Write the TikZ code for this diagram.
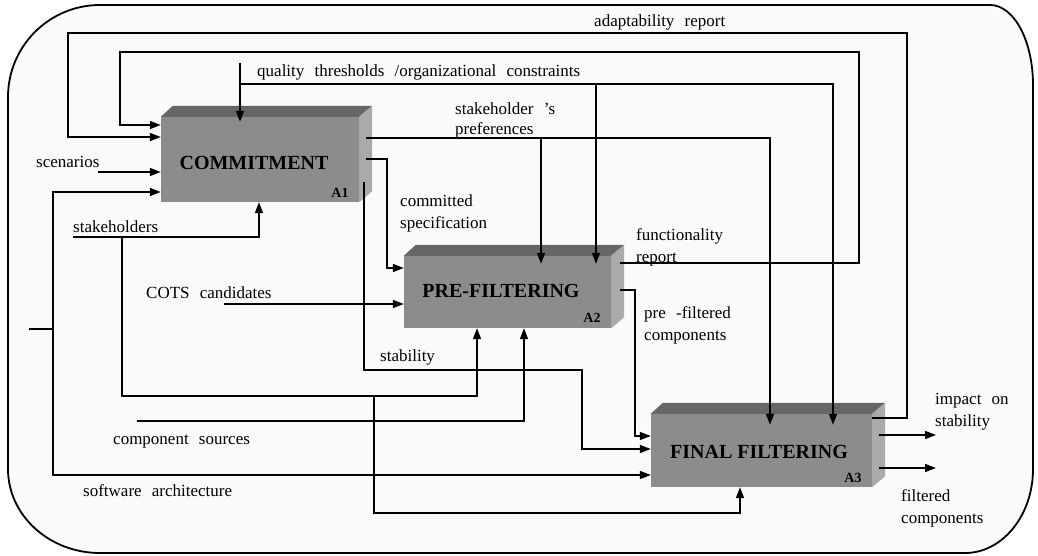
\documentclass[tikz,border=0pt]{standalone}
\usepackage{fontspec}
\setmainfont{Liberation Serif}
\usetikzlibrary{arrows.meta}
\definecolor{bgfill}{HTML}{FAFAFA}
\definecolor{boxfront}{HTML}{8C8C8C}
\definecolor{boxtop}{HTML}{676767}
\definecolor{boxside}{HTML}{AAAAAA}
\newcommand{\wsp}{\hspace{0.6em}}
\begin{document}
\begin{tikzpicture}[x=1pt,y=-1pt,
  line/.style={line width=1.5pt,black},
  arr/.style={line,-{Triangle[length=11pt,width=8pt]}},
  lbl/.style={font=\fontsize{17}{17}\selectfont,anchor=base west,inner sep=0pt},
  boxf/.style={fill=boxfront,draw=none,inner sep=0pt},
  title/.style={font=\fontsize{20}{20}\selectfont\bfseries,inner sep=0pt},
  code/.style={font=\fontsize{14}{14}\selectfont\bfseries,inner sep=0pt}]
\useasboundingbox (0,0) rectangle (1038,556);
\fill[white] (0,0) rectangle (1038,556);
% outer frame
\draw[line width=1.8pt,fill=bgfill] (100,5) -- (990,5)
  .. controls (1014,5) and (1033,40.8) .. (1033,85) -- (1033,469)
  .. controls (1033,515.4) and (1002.5,553) .. (965,553) -- (100,553)
  .. controls (49.2,553) and (8,515.4) .. (8,469) -- (8,97)
  .. controls (8,46.2) and (49.2,5) .. (100,5) -- cycle;
% boxes
\node[boxf,minimum width=198pt,minimum height=85pt] (A1) at (260,159.5) {};
\node[boxf,minimum width=207pt,minimum height=72pt] (A2) at (507.5,292) {};
\node[boxf,minimum width=221pt,minimum height=73pt] (A3) at (761.5,450.5) {};
\foreach \b in {A1,A2,A3}{
  \fill[boxtop] (\b.north west) -- ([shift={(12pt,11pt)}]\b.north west)
     -- ([shift={(13pt,11pt)}]\b.north east) -- (\b.north east) -- cycle;
  \fill[boxside] (\b.north east) -- ([shift={(13pt,11pt)}]\b.north east)
     -- ([shift={(13pt,11pt)}]\b.south east) -- (\b.south east) -- cycle;
}
\node[title] (t1) at (254,163) {COMMITMENT};
\node[title] (t2) at (501,291) {PRE-FILTERING};
\node[title] (t3) at (759,452) {FINAL FILTERING};
\node[code] (c1) at (340,193) {A1};
\node[code] (c2) at (592,318) {A2};
\node[code] (c3) at (853,478) {A3};
% free ends
\coordinate (qS) at (240,63);
\coordinate (scS) at (98,172);
\coordinate (cotsS) at (224,304);
\coordinate (shS) at (73,237);
\coordinate (csS) at (137,421);
\coordinate (saS) at (29,329);
\coordinate (o1E) at (936,435);
\coordinate (o2E) at (936,468);
% adaptability report
\draw[arr] (A3.east |- 0,418) -| (907,33) -| (68,137) -- (A1.west |- 0,137);
% functionality report
\draw[arr] (620,263) -| (859,52) -| (120,125) -- (A1.west |- 0,125);
% quality thresholds
\draw[arr,shorten >=-5pt] (qS) -- (A1.north -| qS);
\draw[arr,shorten >=-8pt] (240,84) -| (A2.north -| 596,0);
\draw[arr,shorten >=-11pt] (596,84) -| (A3.north -| 833,0);
% stakeholder's preferences
\draw[arr,shorten >=-11pt] (366,138) -| (A3.north -| 770,0);
\draw[arr,shorten >=-8pt] (541,138) -- (A2.north -| 541,0);
% committed specification
\draw[arr] (366,159) -| (387,268) -- (A2.west |- 0,268);
% stability
\draw[arr] (364,182) |- (582,370) |- (A3.west |- 0,449);
% pre-filtered components
\draw[arr] (620,290) -| (635,436) -- (A3.west |- 0,436);
% COTS candidates
\draw[arr] (cotsS) -- (A2.west |- cotsS);
% scenarios
\draw[arr] (scS) -- (A1.west |- scS);
% stakeholders
\draw[arr] (shS) -| (A1.south -| 259,0);
\draw[arr] (122,237) |- (477,396) -- (A2.south -| 477,0);
\draw[arr] (374,396) |- (740,513) -- (A3.south -| 740,0);
% component sources
\draw[arr] (csS) -| (A2.south -| 524,0);
% software architecture
\draw[line] (saS) -- (53,329);
\draw[arr] (53,329) |- (A1.west |- 0,192);
\draw[arr] (53,329) |- (A3.west |- 0,475);
% outputs
\draw[arr] (879,435) -- (o1E);
\draw[arr] (879,468) -- (o2E);
% labels
\node[lbl] (l1) at (594,27) {adaptability\wsp report};
\node[lbl] (l2) at (257,77) {quality\wsp thresholds\wsp /organizational\wsp constraints};
\node[lbl] (l3) at (455,115) {stakeholder\wsp 's};
\node[lbl] (l4) at (455,135) {preferences};
\node[lbl] (l5) at (36,168) {scenarios};
\node[lbl] (l6) at (400,206) {committed};
\node[lbl] (l7) at (400,228) {specification};
\node[lbl] (l8) at (73,232) {stakeholders};
\node[lbl] (l9) at (636,240) {functionality};
\node[lbl] (l10) at (636,262) {report};
\node[lbl] (l11) at (146,298) {COTS\wsp candidates};
\node[lbl] (l12) at (380,361) {stability};
\node[lbl] (l13) at (644,318) {pre\wsp -filtered};
\node[lbl] (l14) at (644,340) {components};
\node[lbl] (l15) at (113,444) {component\wsp sources};
\node[lbl] (l16) at (83,496) {software\wsp architecture};
\node[lbl] (l17) at (935,404) {impact\wsp on};
\node[lbl] (l18) at (935,426) {stability};
\node[lbl] (l19) at (901,501) {filtered};
\node[lbl] (l20) at (901,523) {components};
\end{tikzpicture}
\end{document}
